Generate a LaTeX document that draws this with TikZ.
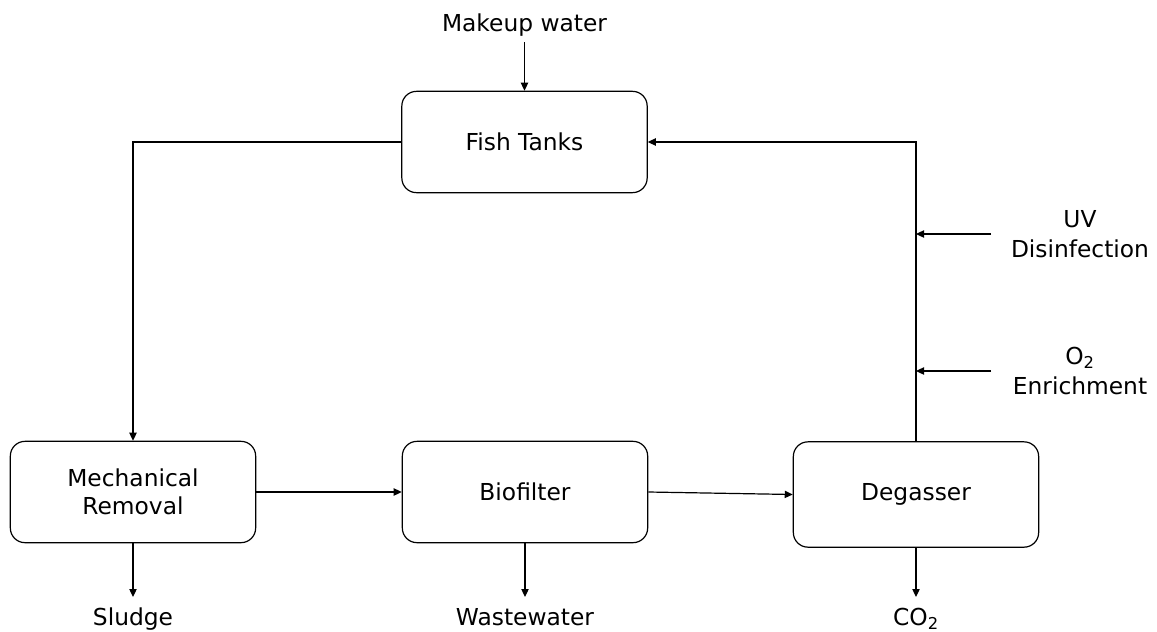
\documentclass[tikz,border=0pt]{standalone}
\usepackage{fontspec}
\setmainfont{DejaVu Sans}
\usetikzlibrary{arrows.meta}
\begin{document}
\begin{tikzpicture}[x=0.75pt,y=-0.75pt,
  proc/.style={draw,rounded corners=11pt,line width=0.9pt,minimum width=184pt,minimum height=76pt,inner sep=0pt,align=center,font=\fontsize{17.5}{21}\selectfont},
  lbl/.style={inner sep=0pt,align=center,font=\fontsize{17.5}{22.5}\selectfont},
  flow/.style={line width=0.9pt,-{Triangle[length=6pt,width=5.5pt]}}]
\useasboundingbox (0,0) rectangle (1157,632);
\node[proc] (fish) at (524.5,142) {Fish Tanks};
\node[proc] (mech) at (133,492) {Mechanical\\Removal};
\node[proc] (bio) at (525,492) {Biofilter};
\node[proc,minimum height=79pt] (deg) at (916,494.5) {Degasser};
\node[lbl,anchor=base] (make) at (524.5,31) {Makeup water};
\node[lbl] (uv) at (1080,234) {UV\\Disinfection};
\node[lbl] (o2) at (1080,371) {O\textsubscript{2}\\Enrichment};
\node[lbl,anchor=base] (sludge) at (133,625) {Sludge};
\node[lbl,anchor=base] (ww) at (525,625) {Wastewater};
\node[lbl,anchor=base] (co2) at (916,625) {CO\textsubscript{2}};
\coordinate (mkS) at (524.5,42);
\coordinate (uvS) at (991,234);
\coordinate (o2S) at (991,371);
\coordinate (uvT) at (916,234);
\coordinate (o2T) at (916,371);
\coordinate (slT) at (133,597);
\coordinate (wwT) at (525,597);
\coordinate (coT) at (916,597);
\draw[flow] (mkS) -- (fish.north);
\draw[flow] (fish.west) -| (mech.north);
\draw[flow] (mech.east) -- (bio.west);
\draw[flow] (bio.east) -- (deg.west);
\draw[flow] (deg.north) |- (fish.east);
\draw[flow] (uvS) -- (uvT);
\draw[flow] (o2S) -- (o2T);
\draw[flow] (mech.south) -- (slT);
\draw[flow] (bio.south) -- (wwT);
\draw[flow] (deg.south) -- (coT);
\end{tikzpicture}
\end{document}
